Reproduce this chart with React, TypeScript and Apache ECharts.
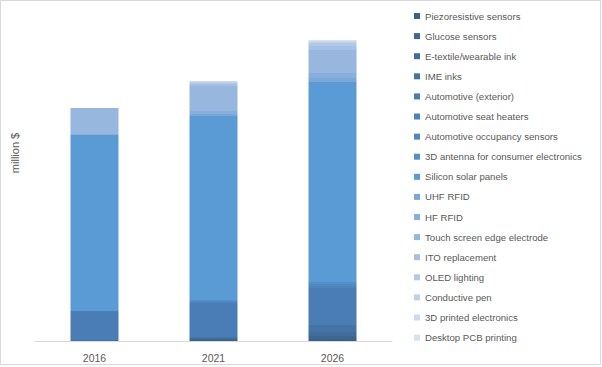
import React, { useEffect, useRef } from "react";
import * as echarts from "echarts";

const categories = ["2016", "2021", "2026"];

const seriesNames = [
  "Piezoresistive sensors",
  "Glucose sensors",
  "E-textile/wearable ink",
  "IME inks",
  "Automotive (exterior)",
  "Automotive seat heaters",
  "Automotive occupancy sensors",
  "3D antenna for consumer electronics",
  "Silicon solar panels",
  "UHF RFID",
  "HF RFID",
  "Touch screen edge electrode",
  "ITO replacement",
  "OLED lighting",
  "Conductive pen",
  "3D printed electronics",
  "Desktop PCB printing",
];

// million $ per category (2016, 2021, 2026)
const piezoresistive = [0, 10, 20];
const glucose = [0, 10, 30];
const etextile = [0, 10, 40];
const imeInks = [10, 10, 70];
const automotiveExterior = [290, 340, 370];
const seatHeaters = [0, 10, 20];
const occupancySensors = [0, 10, 20];
const antenna3D = [0, 10, 20];
const siliconSolar = [1760, 1840, 2000];
const uhfRfid = [0, 20, 40];
const hfRfid = [10, 30, 50];
const touchScreen = [260, 250, 230];
const itoReplacement = [0, 20, 40];
const oledLighting = [0, 10, 30];
const conductivePen = [0, 10, 10];
const printed3D = [0, 10, 10];
const desktopPcb = [0, 0, 10];

const seriesValues = [
  piezoresistive,
  glucose,
  etextile,
  imeInks,
  automotiveExterior,
  seatHeaters,
  occupancySensors,
  antenna3D,
  siliconSolar,
  uhfRfid,
  hfRfid,
  touchScreen,
  itoReplacement,
  oledLighting,
  conductivePen,
  printed3D,
  desktopPcb,
];

const colors = [
  "#38628e",
  "#3c6793",
  "#406d9b",
  "#4473a4",
  "#4a7db5",
  "#4c84bc",
  "#5088c2",
  "#548fc9",
  "#5b9bd5",
  "#7aa7d8",
  "#87afdb",
  "#98b7df",
  "#a5c0e3",
  "#b2c9e7",
  "#bfd2eb",
  "#cbdaee",
  "#d6e2f1",
];

const FONT = "'Liberation Sans', Arial, sans-serif";

export default function App() {
  const ref = useRef<HTMLDivElement>(null);

  useEffect(() => {
    document.body.style.margin = "0";
    if (!ref.current) return;
    const chart = echarts.init(ref.current, undefined, { renderer: "svg" });
    chart.setOption({
      animation: false,
      backgroundColor: "#ffffff",
      color: colors,
      grid: { left: 35, width: 357, top: 21, height: 320, containLabel: false },
      legend: {
        orient: "vertical",
        left: 414,
        top: 10,
        padding: 0,
        itemWidth: 6,
        itemHeight: 6,
        itemGap: 8.1,
        icon: "rect",
        selectedMode: false,
        textStyle: {
          color: "#595959",
          fontSize: 9.6,
          fontFamily: FONT,
          lineHeight: 12,
        },
        data: seriesNames,
      },
      xAxis: {
        type: "category",
        data: categories,
        axisLine: { show: true, lineStyle: { color: "#d9d9d9", width: 1 } },
        axisTick: { show: false },
        axisLabel: {
          color: "#595959",
          fontSize: 10.5,
          fontFamily: FONT,
          margin: 11,
        },
      },
      yAxis: {
        type: "value",
        min: 0,
        max: 3200,
        show: false,
        splitLine: { show: false },
      },
      graphic: [
        {
          type: "rect",
          shape: { x: 0.5, y: 0.5, width: 600, height: 364 },
          style: { fill: "none", stroke: "#d9d9d9", lineWidth: 1 },
          silent: true,
        },
        {
          type: "text",
          x: 15,
          y: 153,
          rotation: Math.PI / 2,
          style: {
            text: "million $",
            fill: "#595959",
            fontSize: 11,
            fontFamily: FONT,
            align: "center",
            verticalAlign: "middle",
          },
          silent: true,
        },
      ],
      series: seriesNames.map((name, i) => ({
        name,
        type: "bar",
        stack: "total",
        barWidth: 48,
        data: seriesValues[i],
        itemStyle: { color: colors[i] },
        emphasis: { disabled: true },
      })),
    });
    return () => chart.dispose();
  }, []);

  return <div ref={ref} style={{ width: 602, height: 367 }} />;
}
